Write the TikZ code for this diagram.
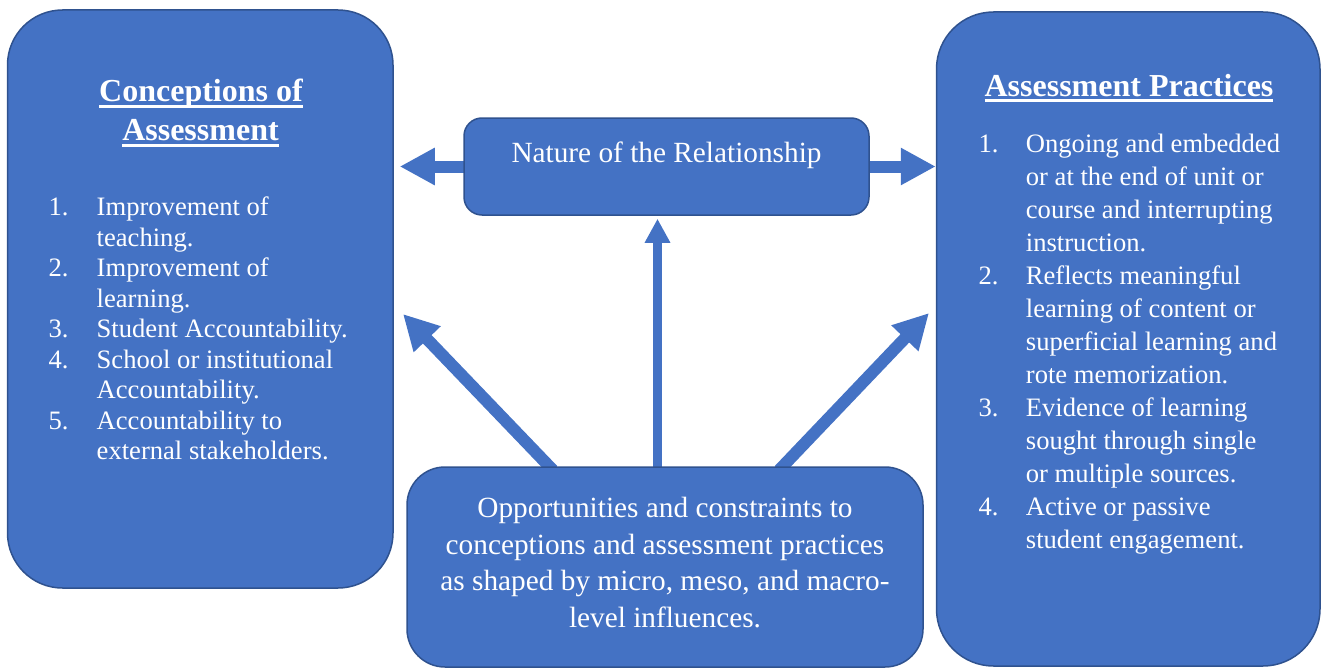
\documentclass[tikz,border=0pt]{standalone}
\usepackage{fontspec}
\setmainfont{Liberation Serif}
\usetikzlibrary{arrows.meta}
\definecolor{boxfill}{HTML}{4472C4}
\definecolor{boxline}{HTML}{2F528F}
\pgfdeclarelayer{bg}
\pgfsetlayers{bg,main}
\newcommand\ultitle[1]{\setbox0\hbox{#1}\rlap{\rule[-6pt]{\wd0}{3pt}}\box0}
\begin{document}
\begin{tikzpicture}[x=1pt,y=-1pt,
  panel/.style={draw=boxline, line width=1.5pt, fill=boxfill, inner sep=0pt},
  listtxt/.style={text=white, inner sep=0pt, anchor=base west, font=\fontsize{26.6}{33}\selectfont},
  titletxt/.style={text=white, inner sep=0pt, anchor=base, font=\fontsize{32}{40}\selectfont\bfseries},
  bodytxt/.style={text=white, inner sep=0pt, anchor=base, font=\fontsize{29.3}{36}\selectfont},
  arrowH/.style={draw=boxfill, line width=12pt, -{Triangle[length=35pt,width=35pt]}},
  arrowD/.style={draw=boxfill, line width=12pt, -{Triangle[length=35pt,width=35pt]}},
  arrowV/.style={draw=boxfill, line width=9pt, -{Triangle[length=24pt,width=24pt]}}]
\useasboundingbox (0,0) rectangle (1321,669);

% boxes
\node[panel, minimum width=385.5pt, minimum height=578pt, rounded corners=55pt] (conc) at (200.25,299) {};
\node[panel, minimum width=383.5pt, minimum height=654pt, rounded corners=57pt] (prac) at (1128.25,339) {};
\node[panel, minimum width=405pt, minimum height=97pt, rounded corners=18pt] (nat) at (666.5,166.5) {};
\node[panel, minimum width=516pt, minimum height=200pt, rounded corners=38pt] (opp) at (665,567) {};

\coordinate (ltip) at (403,314);
\coordinate (rtip) at (929,313);

\begin{pgfonlayer}{bg}
\draw[arrowH, shorten >=6pt] ([xshift=2pt]nat.west) -- (nat.west -| conc.east);
\draw[arrowH] ([xshift=-2pt]nat.east) -- (nat.east -| prac.west);
\draw[arrowV] ([xshift=-7.5pt,yshift=-4pt]opp.north) -- ([xshift=-9pt,yshift=-3pt]nat.south);
\draw[arrowD] ([xshift=-112pt,yshift=-4pt]opp.north) -- (ltip);
\draw[arrowD] ([xshift=114pt,yshift=-4pt]opp.north) -- (rtip);
\end{pgfonlayer}

% left box texts
\node[titletxt] (ct1) at (201,101.5) {\ultitle{Conceptions of}};
\node[titletxt] (ct2) at (200.5,140.5) {\ultitle{Assessment}};
\foreach \y/\n/\t [count=\i] in {
  215.5/1./Improvement of,
  246//teaching.,
  276.5/2./Improvement of,
  307//learning.,
  337.5/3./Student Accountability.,
  368/4./School or institutional,
  398.5//Accountability.,
  429/5./Accountability to,
  459.5//external stakeholders.}{
  \node[listtxt] (cn\i) at (48.3,\y) {\n};
  \node[listtxt] (cl\i) at (96.5,\y) {\t};
}

% right box texts
\node[titletxt] (pt1) at (1129,96) {\ultitle{Assessment Practices}};
\foreach \y/\n/\t [count=\i] in {
  152/1./Ongoing and embedded,
  185//or at the end of unit or,
  218//course and interrupting,
  251//instruction.,
  284/2./Reflects meaningful,
  317//learning of content or,
  350//superficial learning and,
  383//rote memorization.,
  416/3./Evidence of learning,
  449//sought through single,
  482//or multiple sources.,
  515/4./Active or passive,
  548//student engagement.}{
  \node[listtxt] (pn\i) at (978.3,\y) {\n};
  \node[listtxt] (pl\i) at (1025.7,\y) {\t};
}

% middle texts
\node[bodytxt] (natt) at (666.5,162) {Nature of the Relationship};
\node[bodytxt] (o1) at (665,517) {Opportunities and constraints to};
\node[bodytxt] (o2) at (665,554) {conceptions and assessment practices};
\node[bodytxt] (o3) at (665,590.5) {as shaped by micro, meso, and macro-};
\node[bodytxt] (o4) at (665,627.5) {level influences.};
\end{tikzpicture}
\end{document}
